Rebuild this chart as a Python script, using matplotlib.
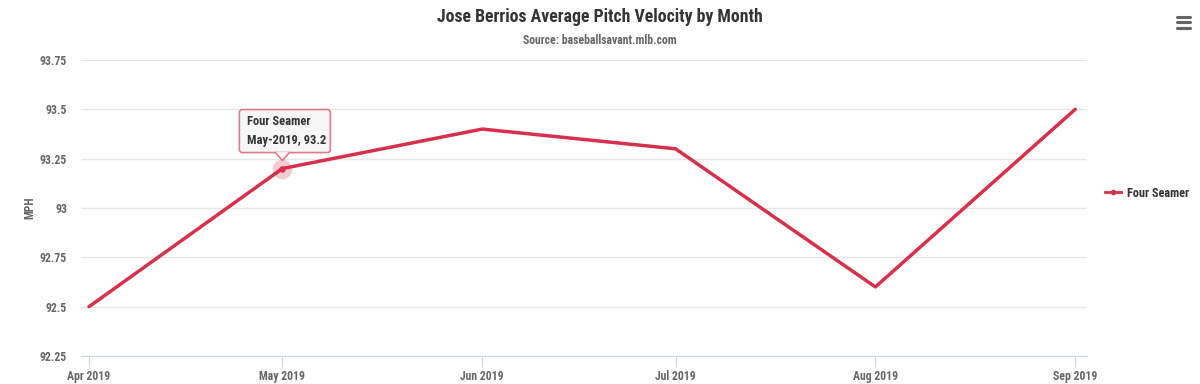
import matplotlib
matplotlib.use('Agg')
import matplotlib.pyplot as plt
import matplotlib.transforms as mtransforms
import matplotlib.dates as mdates
from matplotlib.patches import FancyBboxPatch, Polygon
from matplotlib.lines import Line2D
from datetime import date, timedelta

plt.rcParams['font.family'] = ['Roboto Condensed', 'DejaVu Sans']

months = [date(2019, 4, 1), date(2019, 5, 1), date(2019, 6, 1),
          date(2019, 7, 1), date(2019, 8, 1), date(2019, 9, 1)]
month_labels = ['Apr 2019', 'May 2019', 'Jun 2019', 'Jul 2019', 'Aug 2019', 'Sep 2019']
four_seamer = [92.5, 93.2, 93.4, 93.3, 92.6, 93.5]
y_ticks = [92.25, 92.5, 92.75, 93, 93.25, 93.5, 93.75]
y_labels = ['92.25', '92.5', '92.75', '93', '93.25', '93.5', '93.75']
tooltip_idx = 1
tooltip_text = 'Four Seamer\nMay-2019, 93.2'

line_color = '#d7304b'
text_color = '#333333'
label_color = '#666666'
tip_edge = '#e07a8b'

fig = plt.figure(figsize=(12, 3.84), dpi=100)
ax = fig.add_axes([0.0675, 0.0729, 0.8385, 0.7708])

ax.plot(months, four_seamer, color=line_color, lw=2.5, solid_capstyle='round', zorder=3)

# hovered point: halo + marker
tx, ty = mdates.date2num(months[tooltip_idx]), four_seamer[tooltip_idx]
ax.scatter([tx], [ty], s=200, color=line_color, alpha=0.25, lw=0, zorder=4)
ax.scatter([tx], [ty], s=22, color=line_color, lw=0, zorder=5)

ax.set_xlim(mdates.date2num(months[0]) - 1.24, mdates.date2num(months[-1]) + 1.86)
ax.set_ylim(92.25, 93.75)
ax.set_yticks(y_ticks)
ax.set_yticklabels(y_labels)
ax.set_xticks(mdates.date2num(months))
ax.set_xticklabels(month_labels)
ax.grid(axis='y', color='#e6e6e6', lw=1)
ax.set_axisbelow(True)
for s in ['top', 'right', 'left']:
    ax.spines[s].set_visible(False)
ax.spines['bottom'].set_color('#ccd6eb')
ax.tick_params(axis='y', length=0, pad=10, labelsize=8.5, labelcolor=label_color)
ax.tick_params(axis='x', length=8, color='#ccd6eb', pad=2, labelsize=8.5, labelcolor=label_color)
for t in ax.get_xticklabels() + ax.get_yticklabels():
    t.set_fontweight('bold')
ax.set_ylabel('MPH', fontsize=8.5, color=label_color, fontweight='bold')
ax.yaxis.set_label_coords(-0.0447, 0.5)

# tooltip callout, offsets in inches from the hovered point
tr = fig.dpi_scale_trans + mtransforms.ScaledTranslation(tx, ty, ax.transData)
box = FancyBboxPatch((-0.43, 0.16), 0.91, 0.43, boxstyle='round,pad=0,rounding_size=0.03',
                     transform=tr, fc='#f7f7f7', ec=tip_edge, lw=1.2, zorder=6, clip_on=False)
ax.add_patch(box)
ax.add_patch(Polygon([(-0.07, 0.165), (0, 0.08), (0.07, 0.165)], closed=False, transform=tr,
                     fc='#f7f7f7', ec='none', zorder=7, clip_on=False))
ax.add_line(Line2D([-0.07, 0, 0.07], [0.16, 0.08, 0.16], transform=tr, color=tip_edge,
                   lw=1.2, zorder=7, clip_on=False))
ax.text(-0.35, 0.375, tooltip_text, transform=tr, fontsize=9, fontweight='bold',
        color=text_color, linespacing=1.55, ha='left', va='center', zorder=8)

fig.text(0.5, 0.956, 'Jose Berrios Average Pitch Velocity by Month', ha='center', va='center',
         fontsize=12.8, fontweight='bold', color=text_color)
fig.text(0.5, 0.894, 'Source: baseballsavant.mlb.com', ha='center', va='center',
         fontsize=8.5, fontweight='bold', color=label_color)

# legend
leg_handle = Line2D([0], [0], color=line_color, lw=2, marker='o', markersize=3)
fig.legend([leg_handle], ['Four Seamer'], loc='center left', bbox_to_anchor=(0.912, 0.497),
           frameon=False, handlelength=1.3, handletextpad=0.45,
           prop={'family': 'Roboto Condensed', 'size': 8.8, 'weight': 'bold'},
           labelcolor=text_color)

# context menu icon
for yy in [0.956, 0.942, 0.928]:
    fig.add_artist(Line2D([0.981, 0.992], [yy, yy], color='#666666', lw=2.2,
                          solid_capstyle='round'))

fig.savefig('out.png', dpi=100, facecolor='white')
